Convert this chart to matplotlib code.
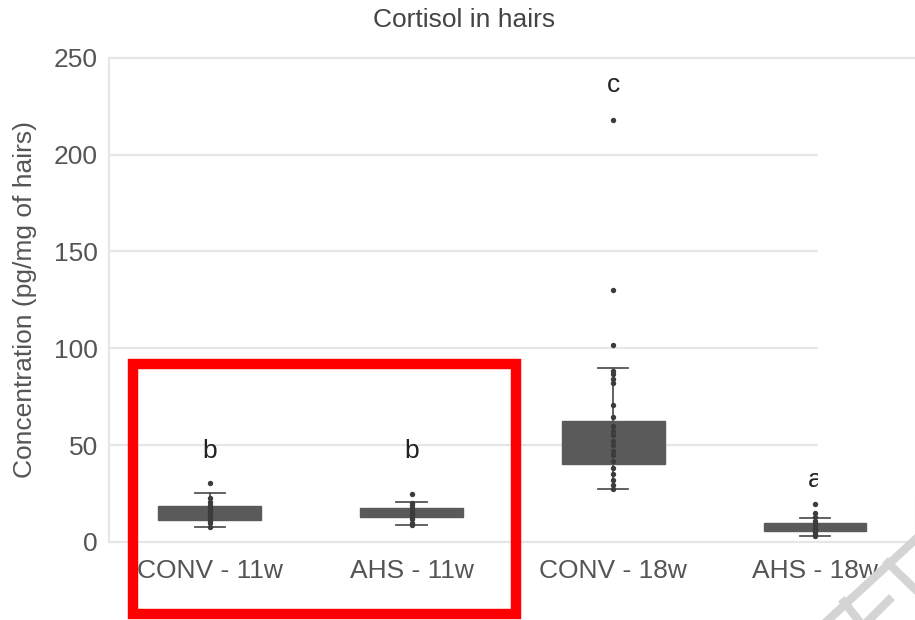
"""
Cortisol concentration in hair, box plot per group (CONV / AHS at 11 and 18 weeks).
"""

import matplotlib
matplotlib.use("Agg")
import matplotlib.pyplot as plt
from matplotlib.patches import Rectangle
from matplotlib.lines import Line2D

plt.rcParams["font.family"] = ["Liberation Sans", "DejaVu Sans"]

groups = ["CONV - 11w", "AHS - 11w", "CONV - 18w", "AHS - 18w"]
letters = ["b", "b", "c", "a"]
letter_y = [47, 47, 236, 32]

# box statistics
q1 = [11.4, 12.7, 40.0, 5.5]
med = [14.5, 15.0, 50.0, 7.5]
q3 = [18.6, 17.7, 62.4, 9.8]
whis_lo = [7.7, 8.8, 27.1, 2.8]
whis_hi = [25.3, 20.8, 90.0, 12.5]

# individual observations (approximate)
pts_conv11 = [30.4, 22.7, 20.6, 19, 18, 17, 16, 15, 14.5, 14, 13, 12, 11, 9.6, 7.9]
pts_ahs11 = [24.8, 20.2, 19, 17.5, 16.5, 16, 15, 14.5, 14, 13, 12, 10, 8.9]
pts_conv18 = [218, 130, 101.5, 88, 86.7, 84, 82, 70.5, 64.6, 60, 57, 55, 52, 50,
              47, 45, 42, 38, 35, 32, 29.5, 27.5]
pts_ahs18 = [19.4, 15, 13, 11, 9.5, 8.5, 8, 7, 6.5, 6, 5, 4, 3]
points = [pts_conv11, pts_ahs11, pts_conv18, pts_ahs18]

W, H = 915, 620
BOX = "#5a5a5a"
GRID = "#e6e6e6"


def px(x, y):
    """pixel position in the picture -> figure fraction"""
    return x / W, 1 - y / H


fig = plt.figure(figsize=(W / 100, H / 100), dpi=100)
ax = fig.add_axes([0.119, 0.126, 0.882, 0.781])

stats = []
for i, g in enumerate(groups):
    stats.append({"label": g, "q1": q1[i], "med": med[i], "q3": q3[i],
                  "whislo": whis_lo[i], "whishi": whis_hi[i], "fliers": []})

ax.bxp(stats, positions=range(len(groups)), widths=0.51, capwidths=0.15,
       patch_artist=True, showfliers=False,
       boxprops=dict(facecolor=BOX, edgecolor=BOX, linewidth=1),
       medianprops=dict(color=BOX, linewidth=1),
       whiskerprops=dict(color="#555555", linewidth=1.3),
       capprops=dict(color="#555555", linewidth=1.3))

for i, vals in enumerate(points):
    ax.scatter([i] * len(vals), vals, s=15, color="#3c3c3c", zorder=4, linewidths=0)

for i, (lab, ly) in enumerate(zip(letters, letter_y)):
    ax.text(i, ly, lab, ha="center", va="center", fontsize=19, color="#222222")

ax.set_xlim(-0.5, 3.5)
ax.set_ylim(0, 250)
ax.set_yticks(range(0, 251, 50))
ax.set_xticks(range(len(groups)))
ax.set_xticklabels(groups)
ax.grid(axis="y", color=GRID, linewidth=1.5)
ax.set_axisbelow(True)
for sp in ax.spines.values():
    sp.set_color(GRID)
    sp.set_linewidth(1.5)
ax.tick_params(length=0, labelsize=19, colors="#555555")
ax.tick_params(axis="y", pad=8)
ax.tick_params(axis="x", pad=12)
ax.set_ylabel("Concentration (pg/mg of hairs)", fontsize=19, color="#555555", labelpad=12)

fig.text(*px(464, 20), "Cortisol in hairs", ha="center", va="center",
         fontsize=19, color="#444444")

# white patch hiding the right part of the panel
x0, y0 = px(818, 495)
fig.add_artist(Rectangle((x0, y0), 1 - x0, (495 - 61) / H, transform=fig.transFigure,
                         facecolor="white", edgecolor="none", zorder=5))

# faint watermark strokes in the lower right corner
for (xa, ya), (xb, yb) in [((918, 537), (826, 622)), ((888, 563), (918, 592)),
                           ((889, 600), (868, 621)), ((844, 602), (859, 621))]:
    a, b = px(xa, ya), px(xb, yb)
    fig.add_artist(Line2D([a[0], b[0]], [a[1], b[1]], transform=fig.transFigure,
                          color="#d4d4d4", linewidth=6, zorder=6))

# red highlight frame round the 11-week groups
rx, ry = px(133, 614)
fig.add_artist(Rectangle((rx, ry), (516 - 133) / W, (614 - 364) / H,
                         transform=fig.transFigure, fill=False, edgecolor="#ff0000",
                         linewidth=7.5, zorder=7))

fig.savefig("out.png", dpi=100)
